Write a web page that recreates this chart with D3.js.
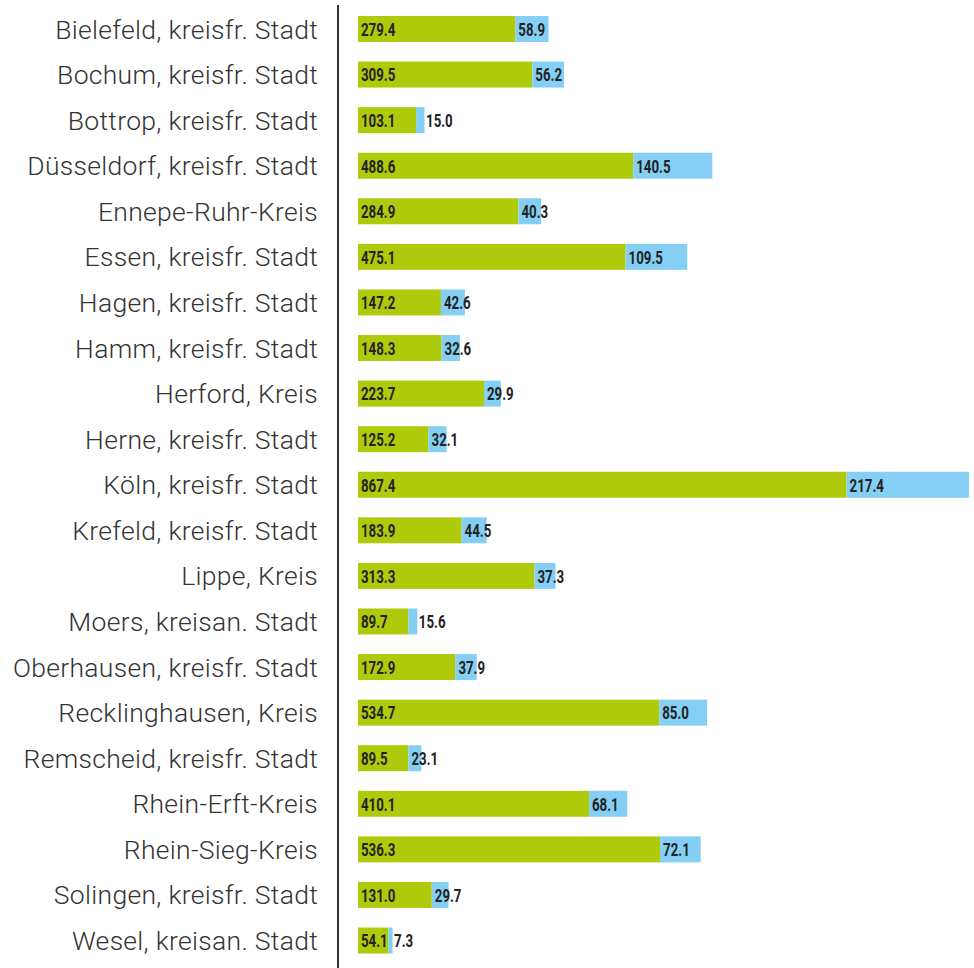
<!DOCTYPE html>
<html><head><meta charset="utf-8">
<script src="https://cdn.jsdelivr.net/npm/d3@7"></script>
<style>body{margin:0;background:#fff}</style>
</head><body>
<svg id="c" width="974" height="968"></svg>
<script>
const categories = ["Bielefeld, kreisfr. Stadt","Bochum, kreisfr. Stadt","Bottrop, kreisfr. Stadt","Düsseldorf, kreisfr. Stadt","Ennepe-Ruhr-Kreis","Essen, kreisfr. Stadt","Hagen, kreisfr. Stadt","Hamm, kreisfr. Stadt","Herford, Kreis","Herne, kreisfr. Stadt","Köln, kreisfr. Stadt","Krefeld, kreisfr. Stadt","Lippe, Kreis","Moers, kreisan. Stadt","Oberhausen, kreisfr. Stadt","Recklinghausen, Kreis","Remscheid, kreisfr. Stadt","Rhein-Erft-Kreis","Rhein-Sieg-Kreis","Solingen, kreisfr. Stadt","Wesel, kreisan. Stadt"];
const seriesA = [279.4,309.5,103.1,488.6,284.9,475.1,147.2,148.3,223.7,125.2,867.4,183.9,313.3,89.7,172.9,534.7,89.5,410.1,536.3,131.0,54.1];
const seriesB = [58.9,56.2,15.0,140.5,40.3,109.5,42.6,32.6,29.9,32.1,217.4,44.5,37.3,15.6,37.9,85.0,23.1,68.1,72.1,29.7,7.3];

const svg = d3.select("#c");
const totals = seriesA.map((a,i)=>a+seriesB[i]);
const x = d3.scaleLinear().domain([0, d3.max(totals)]).range([358, 969]);
const y = d3.scaleBand().domain(categories).range([6.2, 963.3]).paddingInner(0.43).paddingOuter(0.215);

const green = "#afca0b", blue = "#84cff3";

// axis line
svg.append("line").attr("x1",338).attr("x2",338).attr("y1",5).attr("y2",968)
  .attr("stroke","#333").attr("stroke-width",2);

// category labels
svg.selectAll("text.cat").data(categories).join("text")
  .attr("class","cat")
  .attr("x",318).attr("y",d=>y(d)+y.bandwidth()/2)
  .attr("dy","0.36em")
  .attr("text-anchor","end")
  .attr("font-family","Roboto, 'Open Sans', sans-serif")
  .attr("font-weight",300)
  .attr("font-size",26.5)
  .attr("letter-spacing",0.3)
  .attr("fill","#333")
  .text(d=>d);

const rows = categories.map((c,i)=>({c, a:seriesA[i], b:seriesB[i]}));

svg.selectAll("rect.a").data(rows).join("rect")
  .attr("x",x(0)).attr("y",d=>y(d.c))
  .attr("width",d=>x(d.a)-x(0)).attr("height",y.bandwidth())
  .attr("fill",green);
svg.selectAll("rect.b").data(rows).join("rect")
  .attr("x",d=>x(d.a)).attr("y",d=>y(d.c))
  .attr("width",d=>x(d.a+d.b)-x(d.a)).attr("height",y.bandwidth())
  .attr("fill",blue);

function valText(sel){
  sel.attr("font-family","Roboto, sans-serif").attr("font-weight",700).attr("font-size",19)
    .attr("fill","#222").attr("dy","0.36em");
}
svg.selectAll("text.va").data(rows).join("text")
  .attr("transform",d=>`translate(${x(0)+3},${y(d.c)+y.bandwidth()/2}) scale(0.7,1)`)
  .call(valText)
  .text(d=>d.a.toFixed(1));
svg.selectAll("text.vb").data(rows).join("text")
  .attr("transform",d=>{const w=x(d.a+d.b)-x(d.a); const px = w<10 ? x(d.a+d.b)+1.5 : x(d.a)+3; return `translate(${px},${y(d.c)+y.bandwidth()/2}) scale(0.7,1)`;})
  .call(valText)
  .text(d=>d.b.toFixed(1));
</script>
</body></html>
